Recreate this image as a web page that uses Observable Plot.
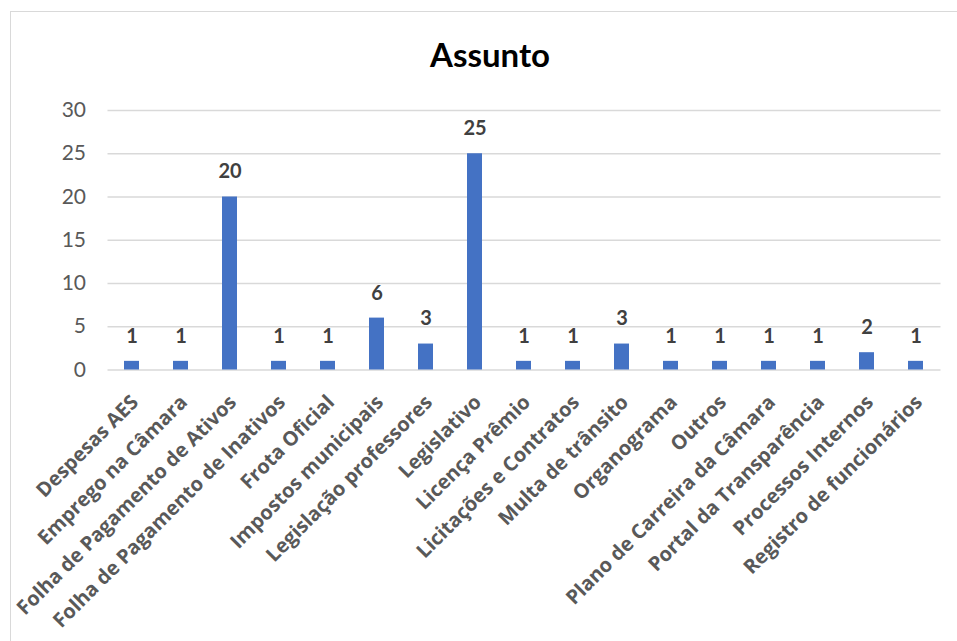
<!DOCTYPE html>
<html>
<head>
<meta charset="utf-8">
<script src="https://cdn.jsdelivr.net/npm/d3@7"></script>
<script src="https://cdn.jsdelivr.net/npm/@observablehq/plot@0.6"></script>
<style>
  html, body { margin: 0; padding: 0; background: #fff; }
  body { position: relative; width: 957px; height: 641px; overflow: hidden; }
  #frame { position: absolute; left: 10px; top: 11px; width: 980px; height: 700px; border: 1.5px solid #d9d9d9; box-sizing: border-box; }
  #title { position: absolute; left: 290px; width: 400px; top: 34px; text-align: center; font-family: Lato, sans-serif; font-weight: 700; font-size: 33px; color: #000; }
  #chart { position: absolute; left: 0; top: 0; }
</style>
</head>
<body>
<div id="frame"></div>
<div id="title">Assunto</div>
<div id="chart"></div>
<script>
const categories = [
  "Despesas AES",
  "Emprego na Câmara",
  "Folha de Pagamento de Ativos",
  "Folha de Pagamento de Inativos",
  "Frota Oficial",
  "Impostos municipais",
  "Legislação professores",
  "Legislativo",
  "Licença Prêmio",
  "Licitações e Contratos",
  "Multa de trânsito",
  "Organograma",
  "Outros",
  "Plano de Carreira da Câmara",
  "Portal da Transparência",
  "Processos Internos",
  "Registro de funcionários"
];
const values = [1, 1, 20, 1, 1, 6, 3, 25, 1, 1, 3, 1, 1, 1, 1, 2, 1];
const yTicks = [0, 5, 10, 15, 20, 25, 30];

const data = categories.map((c, i) => ({category: c, value: values[i]}));

const plot = Plot.plot({
  width: 957,
  height: 641,
  marginLeft: 107.5,
  marginRight: 16.5,
  marginTop: 110,
  marginBottom: 271.5,
  style: {background: "transparent", overflow: "visible"},
  x: {domain: categories, paddingInner: 0.69, paddingOuter: 0.345, label: null, axis: null},
  y: {domain: [0, 30], ticks: yTicks, label: null},
  marks: [
    Plot.gridY(yTicks, {stroke: "#d9d9d9", strokeOpacity: 1, strokeWidth: 1.5}),
    Plot.barY(data, {x: "category", y: "value", fill: "#4472C4"}),
    Plot.axisY({ticks: yTicks, tickSize: 0, tickPadding: 22, fontSize: 21, fontFamily: "Lato, sans-serif", fill: "#595959", label: null}),
    Plot.text(categories, {x: d => d, frameAnchor: "bottom", rotate: -45, textAnchor: "end", lineAnchor: "middle", dx: 3, dy: 29, fontSize: 20, fontWeight: 700, fontFamily: "'Open Sans', sans-serif", fill: "#595959"}),
    Plot.text(data, {x: "category", y: "value", text: d => String(d.value), dy: -25, fontSize: 20, fontWeight: 700, fontFamily: "Lato, sans-serif", fill: "#404040"})
  ]
});
document.getElementById("chart").appendChild(plot);
</script>
</body>
</html>
